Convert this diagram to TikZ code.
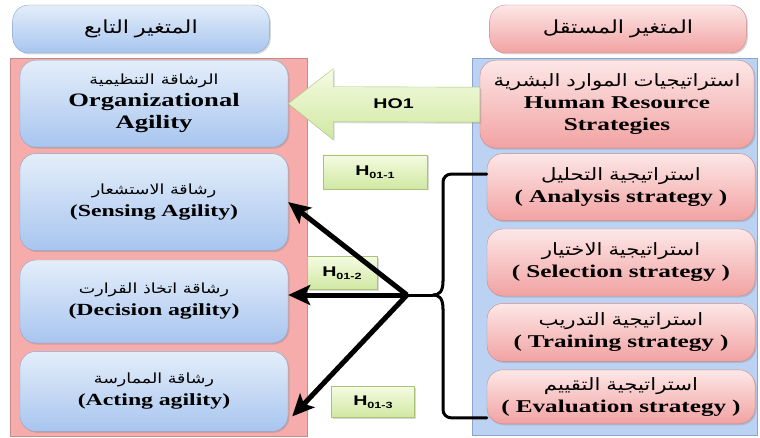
\documentclass[tikz,border=0pt]{standalone}
\usepackage{fontspec}
\setmainfont{Liberation Serif}[FakeStretch=1.4]
\newfontfamily\arfont[Script=Arabic,FakeStretch=1.25]{DejaVu Sans}
\newfontfamily\hfont[FakeStretch=1.4]{Liberation Sans}
\TeXXeTstate=1
\usetikzlibrary{arrows.meta, positioning, calc, shadows}
\definecolor{BlueTop}{HTML}{E4EEFA}
\definecolor{BlueBot}{HTML}{A8C5EF}
\definecolor{BlueEdge}{HTML}{8AA5CC}
\definecolor{PinkTop}{HTML}{FDE7E7}
\definecolor{PinkBot}{HTML}{F2A2A2}
\definecolor{PinkEdge}{HTML}{C98A8A}
\definecolor{LeftBack}{HTML}{F6ACAA}
\definecolor{RightBack}{HTML}{BCD2F2}
\definecolor{GreenTop}{HTML}{F5FBE2}
\definecolor{GreenBot}{HTML}{D0E8A2}
\definecolor{GreenEdge}{HTML}{A9C47A}
\newcommand{\artxt}[2][13]{{\arfont\mdseries\fontsize{#1}{20}\selectfont\beginR #2\endR}}
\newcommand{\hyp}[1]{H\raisebox{-3pt}{\fontsize{9}{9}\selectfont #1}}

\begin{document}
\begin{tikzpicture}[x=1pt, y=-1pt, >=Stealth]
    \tikzstyle{depbox} = [rectangle, draw=BlueEdge, top color=BlueTop, bottom color=BlueBot, rounded corners=16pt, text width=250pt, align=center, minimum width=268pt, font=\fontsize{17}{22}\selectfont\bfseries, drop shadow={opacity=0.3, shadow xshift=1.5pt, shadow yshift=-1.5pt}]
    \tikzstyle{indbox} = [depbox, draw=PinkEdge, top color=PinkTop, bottom color=PinkBot, minimum width=268pt, font=\fontsize{18}{22}\selectfont\bfseries]
    \tikzstyle{hyplabel} = [rectangle, draw=GreenEdge, top color=GreenTop, bottom color=GreenBot, font=\hfont\bfseries\fontsize{14}{16}\selectfont, drop shadow={opacity=0.3, shadow xshift=1.5pt, shadow yshift=-1.5pt}]
    \tikzstyle{hyparrow} = [draw, ->, line width=5pt, arrows={-Stealth[length=22pt, width=20pt, inset=5pt]}]
    \tikzstyle{bracket} = [draw, line width=3pt, line cap=round, line join=round]
    \useasboundingbox (0,0) rectangle (760,438);

    % back panels
    \draw[PinkEdge, fill=LeftBack] (10,58) rectangle (307,436);
    \draw[BlueEdge, fill=RightBack] (472,58) rectangle (757,435);

    % headers
    \node[depbox, minimum width=242pt, minimum height=48pt] (dephead) at (141,29) {\artxt[18]{المتغير التابع}};
    \node[indbox, minimum width=247pt, minimum height=48pt] (indhead) at (618,29) {\artxt[18]{المتغير المستقل}};

    % dependent variable
    \node[depbox, minimum height=87pt, anchor=north, font=\fontsize{19}{22}\selectfont\bfseries] (org) at (154,60) {\artxt[14]{الرشاقة التنظيمية}\\Organizational\\Agility};
    \node[depbox, minimum height=97pt, below=6pt of org] (sens) {\artxt[14]{رشاقة الاستشعار}\\(Sensing Agility)};
    \node[depbox, minimum height=83pt, below=9pt of sens] (dec) {\artxt[14]{رشاقة اتخاذ القرارت}\\(Decision agility)};
    \node[depbox, minimum height=80pt, below=8pt of dec] (act) {\artxt[14]{رشاقة الممارسة}\\(Acting agility)};

    % independent variable
    \node[indbox, minimum width=274pt, minimum height=88pt, anchor=north] (hrs) at (617,60) {\artxt[17]{استراتيجيات الموارد البشرية}\\Human Resource\\Strategies};
    \node[indbox, minimum height=67pt, below=5pt of hrs, xshift=4pt] (ana) {\artxt[17]{استراتيجية التحليل}\\( Analysis strategy )};
    \node[indbox, minimum height=67pt, below=8pt of ana] (sel) {\artxt[17]{استراتيجية الاختيار}\\( Selection strategy )};
    \node[indbox, minimum height=58pt, below=7pt of sel] (trn) {\artxt[17]{استراتيجية التدريب}\\( Training strategy )};
    \node[indbox, minimum height=54pt, below=8pt of trn] (eva) {\artxt[17]{استراتيجية التقييم}\\( Evaluation strategy )};

    % main hypothesis
    \draw[draw=GreenEdge, top color=GreenTop, bottom color=GreenBot, drop shadow={opacity=0.3, shadow xshift=1.5pt, shadow yshift=-1.5pt}]
        (org.east) -- ($(org.east)+(45,-35)$) -- ($(org.east)+(45,-17)$) -- ($(hrs.west)+(0,-17)$)
        -- ($(hrs.west)+(0,18)$) -- ($(org.east)+(45,18)$) -- ($(org.east)+(45,36)$) -- cycle;
    \node[font=\hfont\bfseries\fontsize{14}{16}\selectfont] (ho1) at ($(org.east)!0.55!(hrs.west)$) {HO1};

    % sub hypotheses
    \node[hyplabel, minimum width=104pt, minimum height=34pt] (h1) at (375,172) {\hyp{01-1}};
    \node[hyplabel, minimum width=70pt, minimum height=33pt] (h2) at (342,273) {\hyp{01-2}};
    \node[hyplabel, minimum width=83pt, minimum height=31pt] (h3) at (373,402) {\hyp{01-3}};

    \coordinate (hub) at (407,295);
    \coordinate (btip) at (433,295);
    \path[bracket, rounded corners=8pt] ([yshift=13pt]ana.west) -| ($(btip)+(10,-14)$);
    \path[bracket] ($(btip)+(10,-14)$) .. controls ($(btip)+(10,-3)$) and ($(btip)+(6,0)$) .. (btip)
        .. controls ($(btip)+(6,0)$) and ($(btip)+(10,3)$) .. ($(btip)+(10,14)$);
    \path[bracket, rounded corners=8pt] ($(btip)+(10,14)$) |- ([yshift=-21pt]eva.west);
    \path[bracket] (btip) -- (hub);

    \path[hyparrow] (hub) -- (sens.east);
    \path[hyparrow] (hub) -- (hub -| dec.east);
    \path[hyparrow] (hub) -- ($(act.east)+(4,25)$);
\end{tikzpicture}
\end{document}
